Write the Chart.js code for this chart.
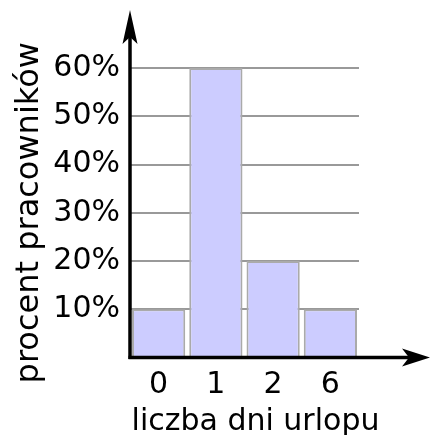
<!DOCTYPE html>
<html>
<head>
<meta charset="utf-8">
<script src="https://cdn.jsdelivr.net/npm/chart.js@4/dist/chart.umd.min.js"></script>
<style>
  html, body { margin: 0; padding: 0; background: #fff; }
  #wrap { width: 431px; height: 435px; position: relative; }
</style>
</head>
<body>
<div id="wrap"><canvas id="c" width="431" height="435"></canvas></div>
<script>
const categories = ['0', '1', '2', '6'];
const percentValues = [10, 60, 20, 10];
const yTickValues = [10, 20, 30, 40, 50, 60];
const xTitle = 'liczba dni urlopu';
const yTitle = 'procent pracowników';

const arrowAxes = {
  id: 'arrowAxes',
  afterDraw(chart) {
    const { ctx, scales } = chart;
    const x0 = scales.x.left;
    const y0 = scales.y.getPixelForValue(0);
    ctx.save();
    ctx.strokeStyle = '#000';
    ctx.fillStyle = '#000';
    ctx.lineWidth = 3.5;
    // y axis
    ctx.beginPath();
    ctx.moveTo(x0, y0 + 1.5);
    ctx.lineTo(x0, 30);
    ctx.stroke();
    ctx.beginPath();
    ctx.moveTo(x0, 10);
    ctx.lineTo(x0 + 7.5, 44);
    ctx.lineTo(x0, 37);
    ctx.lineTo(x0 - 7.5, 44);
    ctx.closePath();
    ctx.fill();
    // x axis
    ctx.beginPath();
    ctx.moveTo(x0 - 1.5, y0);
    ctx.lineTo(412, y0);
    ctx.stroke();
    ctx.beginPath();
    ctx.moveTo(430, y0);
    ctx.lineTo(402, y0 - 9);
    ctx.lineTo(409, y0);
    ctx.lineTo(402, y0 + 9);
    ctx.closePath();
    ctx.fill();
    // x axis title (drawn without width compression)
    ctx.font = '30px "DejaVu Sans"';
    ctx.textAlign = 'center';
    ctx.textBaseline = 'alphabetic';
    ctx.fillText(xTitle, 255.5, 430);
    ctx.restore();
  }
};

new Chart(document.getElementById('c'), {
  type: 'bar',
  data: {
    labels: categories,
    datasets: [{
      data: percentValues,
      backgroundColor: '#ccccff',
      borderColor: '#aaaaaa',
      borderWidth: 2,
      categoryPercentage: 1,
      barPercentage: 0.93
    }]
  },
  options: {
    responsive: false,
    animation: false,
    events: [],
    layout: { padding: { left: 0, right: 72, top: 68, bottom: 0 } },
    plugins: { legend: { display: false }, tooltip: { enabled: false } },
    scales: {
      x: {
        offset: true,
        grid: { display: false, drawTicks: false },
        border: { display: false },
        ticks: { color: '#000', padding: 10, font: { family: 'DejaVu Sans', size: 30 }, maxRotation: 0, autoSkip: false },
        title: { display: false },
        afterFit(scale) { scale.height = 77.5; }
      },
      y: {
        min: 0,
        max: 60,
        afterBuildTicks(scale) { scale.ticks = yTickValues.map(v => ({ value: v })); },
        grid: { color: '#999999', lineWidth: 2, drawTicks: false },
        border: { display: false },
        ticks: { color: '#000', padding: 10, font: { family: 'DejaVu Sans', size: 30 }, callback: v => v + '%' },
        title: { display: true, text: yTitle, color: '#000', font: { family: 'DejaVu Sans', size: 32 }, padding: { top: 10, bottom: 0 } },
        afterFit(scale) { scale.width = 130; }
      }
    }
  },
  plugins: [arrowAxes]
});
</script>
</body>
</html>
